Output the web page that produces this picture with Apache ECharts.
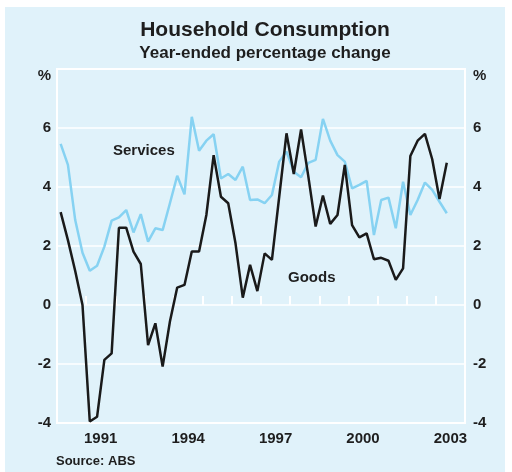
<!DOCTYPE html>
<html>
<head>
<meta charset="utf-8">
<script src="https://cdn.jsdelivr.net/npm/echarts@6/dist/echarts.min.js"></script>
<style>
  html, body { margin: 0; padding: 0; background: #fff; }
  #wrap { position: relative; width: 512px; height: 472px; }
  #panel { position: absolute; left: 5px; top: 7px; width: 500px; height: 465px; background: #e0f2fa; }
  #chart { position: absolute; left: 0; top: 0; width: 512px; height: 472px; }
</style>
</head>
<body>
<div id="wrap">
  <div id="panel"></div>
  <div id="chart"></div>
</div>
<script>
// quarterly, 1990 Q1 .. 2003 Q2, year-ended % change
const startYear = 1990;
const years = ['1990', '1991', '1992', '1993', '1994', '1995', '1996', '1997',
  '1998', '1999', '2000', '2001', '2002', '2003'];
const yearLabels = ['1991', '1994', '1997', '2000', '2003'];

const goods = [
  3.15, 2.2, 1.15, 0.0, -3.95, -3.79, -1.86, -1.64,
  2.62, 2.62, 1.81, 1.39, -1.36, -0.62, -2.09, -0.56,
  0.59, 0.68, 1.81, 1.81, 3.05, 5.08, 3.67, 3.45,
  2.09, 0.25, 1.36, 0.47, 1.75, 1.53, 3.67, 5.82,
  4.44, 5.95, 4.35, 2.66, 3.71, 2.75, 3.05, 4.75,
  2.71, 2.29, 2.43, 1.55, 1.60, 1.50, 0.85, 1.24,
  5.05, 5.57, 5.80, 4.94, 3.59, 4.82
];
const services = [
  5.46, 4.75, 2.88, 1.77, 1.16, 1.33, 1.98, 2.86,
  2.97, 3.22, 2.46, 3.08, 2.15, 2.60, 2.54, 3.45,
  4.38, 3.75, 6.38, 5.23, 5.57, 5.79, 4.29, 4.44,
  4.24, 4.69, 3.56, 3.58, 3.45, 3.73, 4.86, 5.20,
  4.52, 4.33, 4.82, 4.92, 6.31, 5.57, 5.08, 4.86,
  3.95, 4.07, 4.21, 2.37, 3.56, 3.64, 2.60, 4.18,
  3.05, 3.56, 4.15, 3.90, 3.50, 3.11
];

// place each quarter at the middle of its quarter
function toPoints(arr) {
  return arr.map((v, i) => [startYear + (i + 0.5) / 4, v]);
}

const font = 'Liberation Sans, Arial, Helvetica, sans-serif';
const ink = '#1e1e1e';

function yAxisCommon(pos, margin) {
  return {
    type: 'value',
    position: pos,
    min: -4,
    max: 8,
    interval: 2,
    axisLine: { show: false },
    axisTick: { show: false },
    splitLine: { show: pos === 'left', lineStyle: { color: '#ffffff', width: 1.5 } },
    axisLabel: {
      margin: margin,
      color: ink,
      fontFamily: font,
      fontWeight: 'bold',
      fontSize: 15,
      formatter: v => (v === 8 ? '{p|%}' : String(v)),
      rich: {
        p: { padding: [14, 0, 0, 0], fontFamily: font, fontWeight: 'bold', fontSize: 15, color: ink }
      }
    }
  };
}

const chart = echarts.init(document.getElementById('chart'), null, { renderer: 'canvas' });
chart.setOption({
  animation: false,
  title: {
    text: 'Household Consumption',
    subtext: 'Year-ended percentage change',
    left: 260,
    top: 15,
    textAlign: 'center',
    itemGap: 4,
    textStyle: { fontFamily: font, fontWeight: 'bold', fontSize: 21, color: ink },
    subtextStyle: { fontFamily: font, fontWeight: 'bold', fontSize: 17, color: ink }
  },
  grid: {
    left: 57, right: 47, top: 69, bottom: 49,
    show: true,
    borderColor: '#ffffff',
    borderWidth: 2,
    backgroundColor: 'transparent'
  },
  xAxis: [
    {
      type: 'value',
      min: 1990,
      max: 2004,
      show: false
    },
    {
      type: 'category',
      data: years,
      boundaryGap: true,
      position: 'bottom',
      axisLine: { show: false },
      axisTick: { show: true, inside: true, length: 9, interval: 0, lineStyle: { color: '#ffffff', width: 2 } },
      splitLine: { show: false },
      axisLabel: {
        interval: 0,
        margin: 8,
        color: ink,
        fontFamily: font,
        fontWeight: 'bold',
        fontSize: 15,
        formatter: v => (yearLabels.indexOf(v) >= 0 ? v : '')
      }
    }
  ],
  yAxis: [yAxisCommon('left', 6), yAxisCommon('right', 8)],
  series: [
    {
      name: 'Services',
      type: 'line',
      xAxisIndex: 0,
      yAxisIndex: 0,
      data: toPoints(services),
      showSymbol: false,
      lineStyle: { color: '#86d2f2', width: 2.5 },
      z: 3
    },
    {
      name: 'Goods',
      type: 'line',
      xAxisIndex: 0,
      yAxisIndex: 0,
      data: toPoints(goods),
      showSymbol: false,
      lineStyle: { color: '#1a1a1a', width: 2.5 },
      z: 4
    }
  ],
  graphic: [
    {
      type: 'text', left: 113, top: 143,
      style: { text: 'Services', fontFamily: font, fontWeight: 'bold', fontSize: 15, fill: ink }
    },
    {
      type: 'text', left: 288, top: 270,
      style: { text: 'Goods', fontFamily: font, fontWeight: 'bold', fontSize: 15, fill: ink }
    },
    {
      type: 'text', left: 56, top: 455,
      style: { text: 'Source: ABS', fontFamily: font, fontWeight: 'bold', fontSize: 13, fill: ink }
    }
  ]
});
</script>
</body>
</html>
